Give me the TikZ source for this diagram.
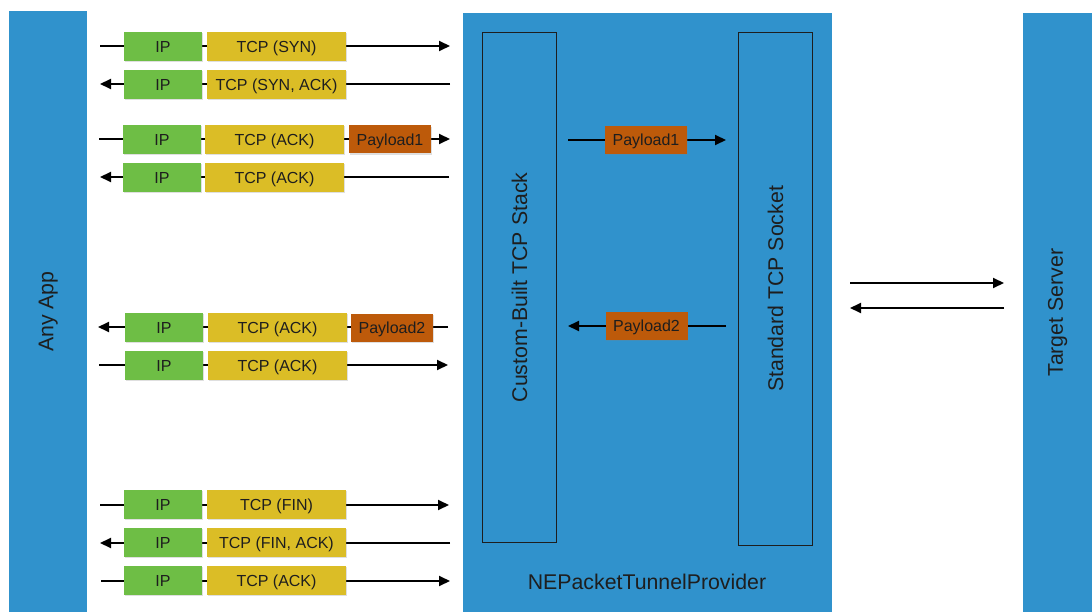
\documentclass[tikz,border=0pt]{standalone}
\usepackage{fontspec}
\setmainfont{Liberation Sans}
\usetikzlibrary{arrows.meta,shadows}

\definecolor{barblue}{RGB}{48,146,204}
\definecolor{ipgreen}{RGB}{110,190,69}
\definecolor{tcpyellow}{RGB}{219,189,38}
\definecolor{payorange}{RGB}{189,90,10}
\definecolor{txt}{RGB}{30,30,30}

\tikzset{
  bar/.style={fill=barblue, draw=none, inner sep=0pt, anchor=north west},
  ipbox/.style={fill=ipgreen, minimum width=78pt, minimum height=29pt, inner sep=0pt,
    text height=11.5pt, text depth=0pt,
    font=\fontsize{16}{16}\selectfont, text=txt,
    drop shadow={shadow xshift=0.8pt, shadow yshift=-1.2pt, opacity=0.25}},
  tcpbox/.style={ipbox, fill=tcpyellow, minimum width=139pt},
  paybox/.style={ipbox, fill=payorange, minimum width=82pt, minimum height=28pt},
  stackbox/.style={draw=txt, line width=0.9pt, inner sep=0pt, anchor=north west},
  wire/.style={line width=2pt, -{Triangle[length=11pt,width=10pt]}},
  bigtext/.style={font=\fontsize{21.3}{21.3}\selectfont, text=txt},
}

\begin{document}
\begin{tikzpicture}[x=1pt,y=-1pt]
\useasboundingbox (0,0) rectangle (1092,612);

%колонны
\node[bar, minimum width=78pt, minimum height=601pt] (app) at (9,11) {};
\node[bar, minimum width=369pt, minimum height=599pt] (tunnel) at (463,13) {};
\node[bar, minimum width=69pt, minimum height=599pt] (server) at (1023,13) {};
\node[bigtext, rotate=90] (applbl) at (app.center) {Any App};
\node[bigtext, rotate=90] (serverlbl) at (server.center) {Target Server};
\node[bigtext] (tunnellbl) at (647,582) {NEPacketTunnelProvider};

%стеки внутри
\node[stackbox, minimum width=74pt, minimum height=510pt] (stack) at (482,32) {};
\node[stackbox, minimum width=74pt, minimum height=513pt] (socket) at (738,32) {};
\node[bigtext, rotate=90] (stacklbl) at (stack.center) {Custom-Built TCP Stack};
\node[bigtext, rotate=90] (socketlbl) at (socket.center) {Standard TCP Socket};

%концы линий
\coordinate (w1) at (100,46);  \coordinate (e1) at (450,46);
\coordinate (w2) at (100,84);  \coordinate (e2) at (450,84);
\coordinate (w3) at (99,139);  \coordinate (e3) at (450,139);
\coordinate (w4) at (100,177); \coordinate (e4) at (449,177);
\coordinate (w5) at (98,327);  \coordinate (e5) at (448,327);
\coordinate (w6) at (99,365);  \coordinate (e6) at (448,365);
\coordinate (w7) at (100,505); \coordinate (e7) at (449,505);
\coordinate (w8) at (100,543); \coordinate (e8) at (450,543);
\coordinate (w9) at (101,581); \coordinate (e9) at (450,581);
\coordinate (mw1) at (568,140); \coordinate (me1) at (726,140);
\coordinate (mw2) at (568,326); \coordinate (me2) at (726,326);
\coordinate (rw1) at (850,283); \coordinate (re1) at (1004,283);
\coordinate (rw2) at (850,308); \coordinate (re2) at (1004,308);

%линии
\draw[wire] (w1) -- (e1);
\draw[wire] (e2) -- (w2);
\draw[wire] (w3) -- (e3);
\draw[wire] (e4) -- (w4);
\draw[wire] (e5) -- (w5);
\draw[wire] (w6) -- (e6);
\draw[wire] (w7) -- (e7);
\draw[wire] (e8) -- (w8);
\draw[wire] (w9) -- (e9);
\draw[wire] (mw1) -- (me1);
\draw[wire] (me2) -- (mw2);
\draw[wire] (rw1) -- (re1);
\draw[wire] (re2) -- (rw2);

%пакеты: рукопожатие
\node[ipbox] (ip1) at (163,46.5) {IP};
\node[tcpbox] (tcp1) at (276.5,46.5) {TCP (SYN)};
\node[ipbox] (ip2) at (163,84.5) {IP};
\node[tcpbox] (tcp2) at (276.5,84.5) {TCP (SYN, ACK)};
\node[ipbox] (ip3) at (162,139.5) {IP};
\node[tcpbox] (tcp3) at (274.5,139.5) {TCP (ACK)};
\node[paybox] (pay1) at (390,139.5) {Payload1};
\node[ipbox] (ip4) at (162,177.5) {IP};
\node[tcpbox] (tcp4) at (274.5,177.5) {TCP (ACK)};

%пакеты: ответ
\node[ipbox] (ip5) at (164,327.5) {IP};
\node[tcpbox] (tcp5) at (277.5,327.5) {TCP (ACK)};
\node[paybox] (pay2) at (392,327.5) {Payload2};
\node[ipbox] (ip6) at (164,365.5) {IP};
\node[tcpbox] (tcp6) at (277.5,365.5) {TCP (ACK)};

%пакеты: закрытие
\node[ipbox] (ip7) at (163,504.5) {IP};
\node[tcpbox] (tcp7) at (276.5,504.5) {TCP (FIN)};
\node[ipbox] (ip8) at (163,542.5) {IP};
\node[tcpbox] (tcp8) at (276.5,542.5) {TCP (FIN, ACK)};
\node[ipbox] (ip9) at (163,580.5) {IP};
\node[tcpbox] (tcp9) at (276.5,580.5) {TCP (ACK)};

%внутри туннеля
\node[paybox] (mpay1) at (646,140) {Payload1};
\node[paybox] (mpay2) at (646.5,326) {Payload2};

\end{tikzpicture}
\end{document}
